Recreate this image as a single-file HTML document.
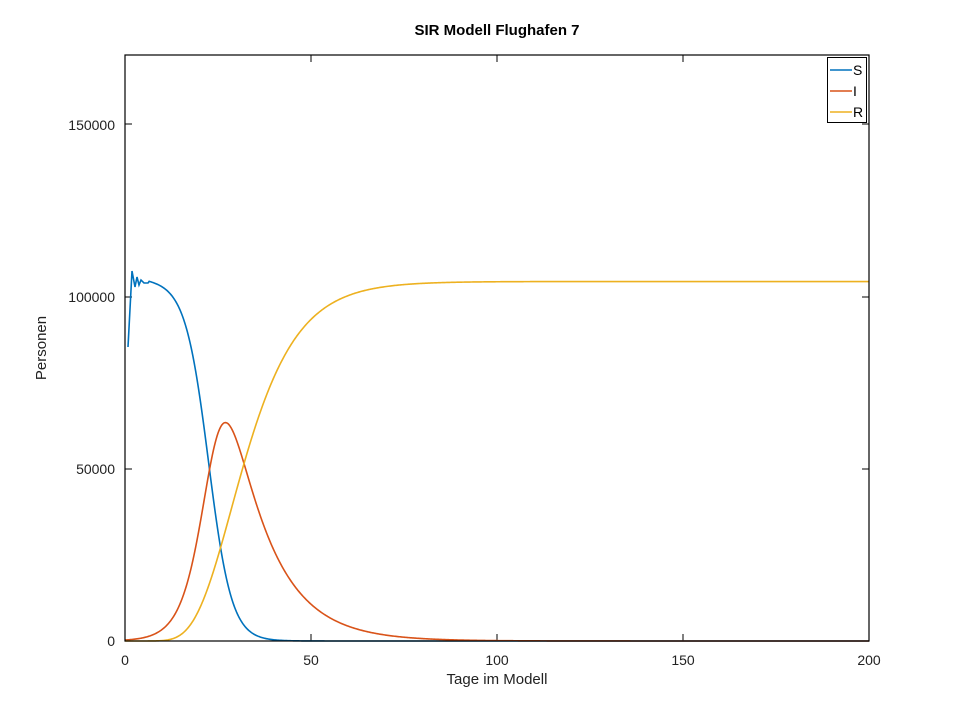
<!DOCTYPE html>
<html><head><meta charset="utf-8"><style>
body{margin:0;background:#fff;}
svg text{font-family:"Liberation Sans",sans-serif;}
</style></head><body>
<svg id="s" width="960" height="720" xmlns="http://www.w3.org/2000/svg">
<rect width="960" height="720" fill="#fff"/>
<text x="497" y="35" font-size="15" font-weight="bold" text-anchor="middle">SIR Modell Flughafen 7</text>
<g font-size="14" fill="#222">
<text x="125" y="665" text-anchor="middle">0</text>
<text x="311" y="665" text-anchor="middle">50</text>
<text x="497" y="665" text-anchor="middle">100</text>
<text x="683" y="665" text-anchor="middle">150</text>
<text x="869" y="665" text-anchor="middle">200</text>
<text x="115" y="646" text-anchor="end">0</text>
<text x="115" y="474" text-anchor="end">50000</text>
<text x="115" y="302" text-anchor="end">100000</text>
<text x="115" y="130" text-anchor="end">150000</text>
<text x="497" y="684" text-anchor="middle" font-size="15">Tage im Modell</text>
<text transform="translate(46,348) rotate(-90)" text-anchor="middle" font-size="15">Personen</text>
</g>
<g stroke="#000" stroke-width="1">
<line x1="311" y1="641" x2="311" y2="634"/><line x1="497" y1="641" x2="497" y2="634"/><line x1="683" y1="641" x2="683" y2="634"/>
<line x1="311" y1="55" x2="311" y2="62"/><line x1="497" y1="55" x2="497" y2="62"/><line x1="683" y1="55" x2="683" y2="62"/>
<line x1="125" y1="469" x2="132" y2="469"/><line x1="125" y1="297" x2="132" y2="297"/><line x1="125" y1="124" x2="132" y2="124"/>
<line x1="869" y1="469" x2="862" y2="469"/><line x1="869" y1="297" x2="862" y2="297"/><line x1="869" y1="124" x2="862" y2="124"/>
</g>
<g id="curves" fill="none" stroke-width="1.6"></g>
<rect x="125" y="55" width="744" height="586" fill="none" stroke="#000" stroke-width="1.2"/>
<rect x="827.5" y="57.5" width="39" height="65" fill="#fff" stroke="#000" stroke-width="1"/>
<line x1="830" y1="70" x2="852" y2="70" stroke="#0072BD" stroke-width="1.6"/>
<line x1="830" y1="91" x2="852" y2="91" stroke="#D95319" stroke-width="1.6"/>
<line x1="830" y1="112" x2="852" y2="112" stroke="#EDB120" stroke-width="1.6"/>
<g font-size="14"><text x="853" y="75">S</text><text x="853" y="96">I</text><text x="853" y="117">R</text></g>
</svg>
<script>
var X=t=>125+t*3.72, Y=v=>641-v*172/50000;
var g=document.getElementById("curves");
function add(d,col){var p=document.createElementNS("http://www.w3.org/2000/svg","path");p.setAttribute("d",d);p.setAttribute("stroke",col);g.appendChild(p);}
function path(f,col,t0){var d="";for(var t=t0;t<=200;t+=0.25){d+=(d?"L":"M")+X(t).toFixed(2)+","+Y(f(t)).toFixed(2);}add(d,col);}
function S(t){return (105200-110*(t-6))/(1+Math.exp((t-22.5)/3.1));}
var d="M128,347L132,271L135,287L137,277L139,285L141,280L144,283L148,283";
for(var t=6.5;t<=200;t+=0.25){d+="L"+X(t).toFixed(2)+","+Y(Math.max(0,S(t))).toFixed(2);}
add(d,"#0072BD");
var a=4,b=11;function f0(t){return 1/(Math.exp(-t/a)+Math.exp(t/b));}
var mx=0,mt=0;for(var u=-20;u<20;u+=0.01){var v=f0(u);if(v>mx){mx=v;mt=u;}}
path(t=>63500*f0(t-27+mt)/mx,"#D95319",0);
path(t=>104500*Math.exp(-Math.exp(-(t-28.6)/9.75)),"#EDB120",0);
</script>
</body></html>
